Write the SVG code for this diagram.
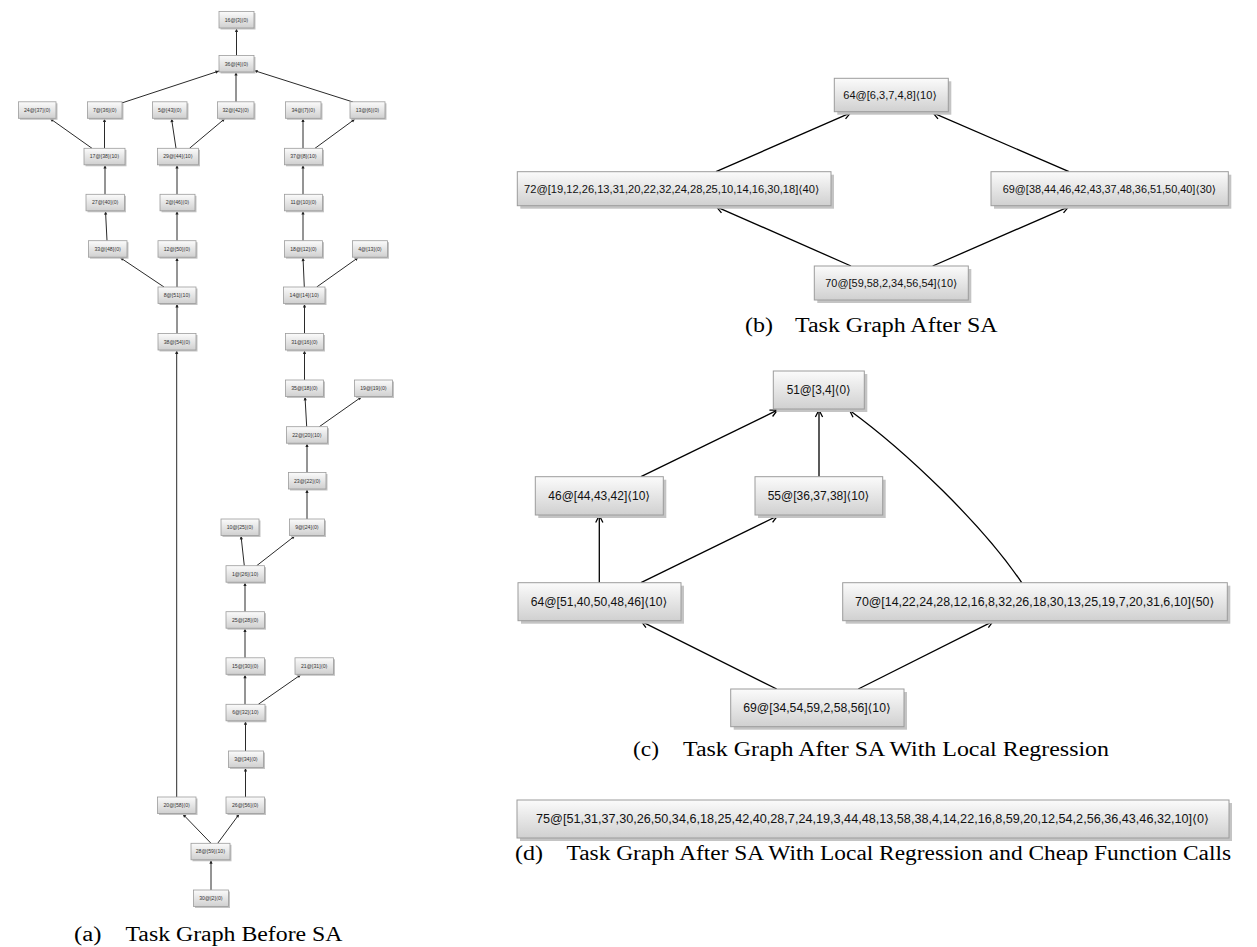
<svg xmlns="http://www.w3.org/2000/svg" width="1257" height="947" viewBox="0 0 1257 947">
  <defs>
    <linearGradient id="boxFill" x1="0" y1="0" x2="0" y2="1">
      <stop offset="0" stop-color="#fbfbfb"/>
      <stop offset="1" stop-color="#d0d0d0"/>
    </linearGradient>
    <!-- small filled head for the compact tree -->
    <marker id="tipS" markerUnits="userSpaceOnUse" viewBox="-4 -3 5 6" markerWidth="5" markerHeight="6" refX="0" refY="0" orient="auto">
      <path d="M-3.6,-1.6 L0,0 L-3.6,1.6 Z" fill="#222"/>
    </marker>
    <!-- open V head for the large graphs -->
    <marker id="tipL" markerUnits="userSpaceOnUse" viewBox="-9 -5 10 10" markerWidth="10" markerHeight="10" refX="0" refY="0" orient="auto">
      <path d="M-7,-3.6 L0,0 L-7,3.6" fill="none" stroke="#000" stroke-width="1.3"/>
    </marker>
    <style>
      .shadow { fill: #c4c4c4; }
      .box { fill: url(#boxFill); stroke: #9c9c9c; stroke-width: 1; }
      .sm .box { stroke-width: 0.8; }
      .lbl { font-family: "Liberation Sans", "DejaVu Sans", sans-serif; fill: #111; }
      .sm .lbl { font-size: 5.2px; fill: #333; text-anchor: middle; }
      .md .lbl { font-size: 11px; }
      .lg .lbl { font-size: 12px; }
      .cap { font-family: "Liberation Serif", "DejaVu Serif", serif; font-size: 20px; fill: #000; }
      .edgeS { fill: none; stroke: #2a2a2a; stroke-width: 1; marker-end: url(#tipS); }
      .edgeL { fill: none; stroke: #000; stroke-width: 1.3; marker-end: url(#tipL); }
    </style>
  </defs>

  <!-- (a) compact task tree: connectors -->
  <g id="edges-a">
    <path class="edgeS" d="M236.5,55.5 L236.5,28.5"/>
    <path class="edgeS" d="M121.7,103 L219,71"/>
    <path class="edgeS" d="M236,101.8 L236,72"/>
    <path class="edgeS" d="M353,102 L254,70.5"/>
    <path class="edgeS" d="M92,148.3 L50,118.5"/>
    <path class="edgeS" d="M104.5,148.3 L104.5,118.5"/>
    <path class="edgeS" d="M176,148.3 L171.5,118.5"/>
    <path class="edgeS" d="M189.5,148.3 L225,118.5"/>
    <path class="edgeS" d="M303,148.3 L303,118.5"/>
    <path class="edgeS" d="M315,148.3 L355,119"/>
    <path class="edgeS" d="M105,194.3 L105,165"/>
    <path class="edgeS" d="M177,194.3 L177,165"/>
    <path class="edgeS" d="M303,194.3 L303,165"/>
    <path class="edgeS" d="M107,240.7 L105.5,211"/>
    <path class="edgeS" d="M177,240.7 L177,211"/>
    <path class="edgeS" d="M303,240.7 L303,211"/>
    <path class="edgeS" d="M164,287 L120,257.5"/>
    <path class="edgeS" d="M177,287 L177,257.5"/>
    <path class="edgeS" d="M304.3,287 L303,257.5"/>
    <path class="edgeS" d="M316.7,287 L358.3,257.5"/>
    <path class="edgeS" d="M177,333.5 L177,303.8"/>
    <path class="edgeS" d="M304.5,333.5 L304.5,303.8"/>
    <path class="edgeS" d="M304.5,380 L304.5,350.3"/>
    <path class="edgeS" d="M306.7,426.7 L305,396.8"/>
    <path class="edgeS" d="M319.3,426.7 L361.7,396.8"/>
    <path class="edgeS" d="M307,472.5 L307,443.5"/>
    <path class="edgeS" d="M307,519 L307,489.3"/>
    <path class="edgeS" d="M244.3,565.7 L241,535.8"/>
    <path class="edgeS" d="M256.7,565.7 L295,535.8"/>
    <path class="edgeS" d="M245,611.7 L245,582.5"/>
    <path class="edgeS" d="M245,657.8 L245,628.5"/>
    <path class="edgeS" d="M245,704.3 L245,674.6"/>
    <path class="edgeS" d="M258.3,704.3 L301,674.6"/>
    <path class="edgeS" d="M245.5,751 L245.5,721.1"/>
    <path class="edgeS" d="M245.5,797 L245.5,767.8"/>
    <path class="edgeS" d="M176.7,797 L176.7,350.3"/>
    <path class="edgeS" d="M211,843.3 L182.7,814"/>
    <path class="edgeS" d="M217.7,843.3 L239.3,814"/>
    <path class="edgeS" d="M211,890 L211,860.1"/>
  </g>

  <!-- (a) compact task tree: nodes -->
  <g class="sm">
    <g id="a-n16"><rect class="shadow" x="220.5" y="13" width="35" height="16.5"/><rect class="box" x="219" y="11.5" width="35" height="16.5"/><text class="lbl" x="236.5" y="21.6">16@[3]⟨0⟩</text></g>
    <g id="a-n36"><rect class="shadow" x="220.5" y="57" width="35" height="16.5"/><rect class="box" x="219" y="55.5" width="35" height="16.5"/><text class="lbl" x="236.5" y="65.6">36@[4]⟨0⟩</text></g>
    <g id="a-n24"><rect class="shadow" x="20" y="103.3" width="37.5" height="16.5"/><rect class="box" x="18.5" y="101.8" width="37.5" height="16.5"/><text class="lbl" x="37.3" y="111.9">24@[37]⟨0⟩</text></g>
    <g id="a-n7"><rect class="shadow" x="89" y="103.3" width="34.5" height="16.5"/><rect class="box" x="87.5" y="101.8" width="34.5" height="16.5"/><text class="lbl" x="104.8" y="111.9">7@[36]⟨0⟩</text></g>
    <g id="a-n5"><rect class="shadow" x="154" y="103.3" width="34.5" height="16.5"/><rect class="box" x="152.5" y="101.8" width="34.5" height="16.5"/><text class="lbl" x="169.8" y="111.9">5@[43]⟨0⟩</text></g>
    <g id="a-n32"><rect class="shadow" x="219" y="103.3" width="36.5" height="16.5"/><rect class="box" x="217.5" y="101.8" width="36.5" height="16.5"/><text class="lbl" x="235.8" y="111.9">32@[42]⟨0⟩</text></g>
    <g id="a-n34"><rect class="shadow" x="287" y="103.3" width="35.5" height="16.5"/><rect class="box" x="285.5" y="101.8" width="35.5" height="16.5"/><text class="lbl" x="303.3" y="111.9">34@[7]⟨0⟩</text></g>
    <g id="a-n13"><rect class="shadow" x="351.5" y="103.3" width="35" height="16.5"/><rect class="box" x="350" y="101.8" width="35" height="16.5"/><text class="lbl" x="367.5" y="111.9">13@[6]⟨0⟩</text></g>
    <g id="a-n17"><rect class="shadow" x="85.5" y="149.8" width="41" height="16.5"/><rect class="box" x="84" y="148.3" width="41" height="16.5"/><text class="lbl" x="104.5" y="158.4">17@[38]⟨10⟩</text></g>
    <g id="a-n29"><rect class="shadow" x="159" y="149.8" width="41" height="16.5"/><rect class="box" x="157.5" y="148.3" width="41" height="16.5"/><text class="lbl" x="178" y="158.4">29@[44]⟨10⟩</text></g>
    <g id="a-n37"><rect class="shadow" x="286" y="149.8" width="38" height="16.5"/><rect class="box" x="284.5" y="148.3" width="38" height="16.5"/><text class="lbl" x="303.5" y="158.4">37@[8]⟨10⟩</text></g>
    <g id="a-n27"><rect class="shadow" x="87.5" y="195.8" width="38.5" height="16.5"/><rect class="box" x="86" y="194.3" width="38.5" height="16.5"/><text class="lbl" x="105.3" y="204.4">27@[40]⟨0⟩</text></g>
    <g id="a-n2"><rect class="shadow" x="161.5" y="195.8" width="35" height="16.5"/><rect class="box" x="160" y="194.3" width="35" height="16.5"/><text class="lbl" x="177.5" y="204.4">2@[46]⟨0⟩</text></g>
    <g id="a-n11"><rect class="shadow" x="286" y="195.8" width="38" height="16.5"/><rect class="box" x="284.5" y="194.3" width="38" height="16.5"/><text class="lbl" x="303.5" y="204.4">11@[10]⟨0⟩</text></g>
    <g id="a-n33"><rect class="shadow" x="90" y="242.2" width="38.5" height="16.5"/><rect class="box" x="88.5" y="240.7" width="38.5" height="16.5"/><text class="lbl" x="107.8" y="250.8">33@[48]⟨0⟩</text></g>
    <g id="a-n12"><rect class="shadow" x="159.5" y="242.2" width="38" height="16.5"/><rect class="box" x="158" y="240.7" width="38" height="16.5"/><text class="lbl" x="177" y="250.8">12@[50]⟨0⟩</text></g>
    <g id="a-n18"><rect class="shadow" x="286" y="242.2" width="38" height="16.5"/><rect class="box" x="284.5" y="240.7" width="38" height="16.5"/><text class="lbl" x="303.5" y="250.8">18@[12]⟨0⟩</text></g>
    <g id="a-n4"><rect class="shadow" x="354" y="242.2" width="35" height="16.5"/><rect class="box" x="352.5" y="240.7" width="35" height="16.5"/><text class="lbl" x="370" y="250.8">4@[13]⟨0⟩</text></g>
    <g id="a-n8"><rect class="shadow" x="159.5" y="288.5" width="38" height="16.5"/><rect class="box" x="158" y="287" width="38" height="16.5"/><text class="lbl" x="177" y="297.1">8@[51]⟨10⟩</text></g>
    <g id="a-n14"><rect class="shadow" x="285" y="288.5" width="41.5" height="16.5"/><rect class="box" x="283.5" y="287" width="41.5" height="16.5"/><text class="lbl" x="304.3" y="297.1">14@[14]⟨10⟩</text></g>
    <g id="a-n38"><rect class="shadow" x="159.5" y="335" width="38" height="16.5"/><rect class="box" x="158" y="333.5" width="38" height="16.5"/><text class="lbl" x="177" y="343.6">38@[54]⟨0⟩</text></g>
    <g id="a-n31"><rect class="shadow" x="287" y="335" width="38" height="16.5"/><rect class="box" x="285.5" y="333.5" width="38" height="16.5"/><text class="lbl" x="304.5" y="343.6">31@[16]⟨0⟩</text></g>
    <g id="a-n35"><rect class="shadow" x="287" y="381.5" width="38" height="16.5"/><rect class="box" x="285.5" y="380" width="38" height="16.5"/><text class="lbl" x="304.5" y="390.1">35@[18]⟨0⟩</text></g>
    <g id="a-n19"><rect class="shadow" x="356" y="381.5" width="38" height="16.5"/><rect class="box" x="354.5" y="380" width="38" height="16.5"/><text class="lbl" x="373.5" y="390.1">19@[19]⟨0⟩</text></g>
    <g id="a-n22"><rect class="shadow" x="288" y="428.2" width="41" height="16.5"/><rect class="box" x="286.5" y="426.7" width="41" height="16.5"/><text class="lbl" x="307" y="436.8">22@[20]⟨10⟩</text></g>
    <g id="a-n23"><rect class="shadow" x="290" y="474" width="37.5" height="16.5"/><rect class="box" x="288.5" y="472.5" width="37.5" height="16.5"/><text class="lbl" x="307.3" y="482.6">23@[22]⟨0⟩</text></g>
    <g id="a-n10"><rect class="shadow" x="222.5" y="520.5" width="38" height="16.5"/><rect class="box" x="221" y="519" width="38" height="16.5"/><text class="lbl" x="240" y="529.1">10@[25]⟨0⟩</text></g>
    <g id="a-n9"><rect class="shadow" x="291" y="520.5" width="35" height="16.5"/><rect class="box" x="289.5" y="519" width="35" height="16.5"/><text class="lbl" x="307" y="529.1">9@[24]⟨0⟩</text></g>
    <g id="a-n1"><rect class="shadow" x="227.5" y="567.2" width="38.5" height="16.5"/><rect class="box" x="226" y="565.7" width="38.5" height="16.5"/><text class="lbl" x="245.3" y="575.8">1@[26]⟨10⟩</text></g>
    <g id="a-n25"><rect class="shadow" x="227.5" y="613.2" width="38.5" height="16.5"/><rect class="box" x="226" y="611.7" width="38.5" height="16.5"/><text class="lbl" x="245.3" y="621.8">25@[28]⟨0⟩</text></g>
    <g id="a-n15"><rect class="shadow" x="227.5" y="659.3" width="38.5" height="16.5"/><rect class="box" x="226" y="657.8" width="38.5" height="16.5"/><text class="lbl" x="245.3" y="667.9">15@[30]⟨0⟩</text></g>
    <g id="a-n21"><rect class="shadow" x="296.5" y="659.3" width="38.5" height="16.5"/><rect class="box" x="295" y="657.8" width="38.5" height="16.5"/><text class="lbl" x="314.3" y="667.9">21@[31]⟨0⟩</text></g>
    <g id="a-n6"><rect class="shadow" x="227.5" y="705.8" width="39" height="16.5"/><rect class="box" x="226" y="704.3" width="39" height="16.5"/><text class="lbl" x="245.5" y="714.4">6@[32]⟨10⟩</text></g>
    <g id="a-n3"><rect class="shadow" x="230" y="752.5" width="35" height="16.5"/><rect class="box" x="228.5" y="751" width="35" height="16.5"/><text class="lbl" x="246" y="761.1">3@[34]⟨0⟩</text></g>
    <g id="a-n20"><rect class="shadow" x="159" y="798.5" width="38.5" height="16.5"/><rect class="box" x="157.5" y="797" width="38.5" height="16.5"/><text class="lbl" x="176.8" y="807.1">20@[58]⟨0⟩</text></g>
    <g id="a-n26"><rect class="shadow" x="227.5" y="798.5" width="38.5" height="16.5"/><rect class="box" x="226" y="797" width="38.5" height="16.5"/><text class="lbl" x="245.3" y="807.1">26@[56]⟨0⟩</text></g>
    <g id="a-n28"><rect class="shadow" x="192.5" y="844.8" width="39" height="16.5"/><rect class="box" x="191" y="843.3" width="39" height="16.5"/><text class="lbl" x="210.5" y="853.4">28@[59]⟨10⟩</text></g>
    <g id="a-n30"><rect class="shadow" x="195" y="891.5" width="35" height="16.5"/><rect class="box" x="193.5" y="890" width="35" height="16.5"/><text class="lbl" x="211" y="900.1">30@[2]⟨0⟩</text></g>
  </g>

  <!-- (b) graph after SA: connectors -->
  <g id="edges-b">
    <path class="edgeL" d="M716,171.7 L850.5,112.8"/>
    <path class="edgeL" d="M1069,171.7 L933,112.8"/>
    <path class="edgeL" d="M851,266 L716.5,206.8"/>
    <path class="edgeL" d="M932.7,266 L1068.5,206.8"/>
  </g>
  <!-- (b) nodes -->
  <g class="md">
    <g id="b-n64"><rect class="shadow" x="837.3" y="81.3" width="114" height="33.4"/><rect class="box" x="834.3" y="78.3" width="114" height="33.4"/><text class="lbl" x="843.3" y="98.8" textLength="93.4" lengthAdjust="spacingAndGlyphs">64@[6,3,7,4,8]⟨10⟩</text></g>
    <g id="b-n72"><rect class="shadow" x="520.3" y="174.7" width="313.7" height="34"/><rect class="box" x="517.3" y="171.7" width="313.7" height="34"/><text class="lbl" x="524" y="192.7" textLength="295.3" lengthAdjust="spacingAndGlyphs">72@[19,12,26,13,31,20,22,32,24,28,25,10,14,16,30,18]⟨40⟩</text></g>
    <g id="b-n69"><rect class="shadow" x="994" y="174.7" width="237.3" height="34"/><rect class="box" x="991" y="171.7" width="237.3" height="34"/><text class="lbl" x="1002.7" y="192.7" textLength="213.3" lengthAdjust="spacingAndGlyphs">69@[38,44,46,42,43,37,48,36,51,50,40]⟨30⟩</text></g>
    <g id="b-n70"><rect class="shadow" x="817.3" y="269" width="154" height="34"/><rect class="box" x="814.3" y="266" width="154" height="34"/><text class="lbl" x="825.3" y="287" textLength="132" lengthAdjust="spacingAndGlyphs">70@[59,58,2,34,56,54]⟨10⟩</text></g>
  </g>

  <!-- (c) graph after SA with local regression: connectors -->
  <g id="edges-c">
    <path class="edgeL" d="M641,476.7 L777.3,410.2"/>
    <path class="edgeL" d="M819,476.7 L819,410"/>
    <path class="edgeL" d="M1021.7,582.7 C982.5,524.6 906,451.3 849.5,410.2"/>
    <path class="edgeL" d="M599.3,582.7 L599.3,515.5"/>
    <path class="edgeL" d="M641,582.7 L777.3,516"/>
    <path class="edgeL" d="M776.7,689 L641.3,621.3"/>
    <path class="edgeL" d="M858.3,689 L993,621.3"/>
  </g>
  <!-- (c) nodes -->
  <g class="lg">
    <g id="c-n51"><rect class="shadow" x="776.3" y="374" width="91" height="38"/><rect class="box" x="773.3" y="371" width="91" height="38"/><text class="lbl" x="786.7" y="394.3" textLength="64" lengthAdjust="spacingAndGlyphs">51@[3,4]⟨0⟩</text></g>
    <g id="c-n46"><rect class="shadow" x="538.3" y="479.7" width="128" height="38.3"/><rect class="box" x="535.3" y="476.7" width="128" height="38.3"/><text class="lbl" x="548.3" y="500.2" textLength="101.7" lengthAdjust="spacingAndGlyphs">46@[44,43,42]⟨10⟩</text></g>
    <g id="c-n55"><rect class="shadow" x="758" y="479.7" width="127.7" height="38.3"/><rect class="box" x="755" y="476.7" width="127.7" height="38.3"/><text class="lbl" x="767.7" y="500.2" textLength="101.6" lengthAdjust="spacingAndGlyphs">55@[36,37,38]⟨10⟩</text></g>
    <g id="c-n64"><rect class="shadow" x="521" y="585.7" width="163" height="38"/><rect class="box" x="518" y="582.7" width="163" height="38"/><text class="lbl" x="530.7" y="606" textLength="136.6" lengthAdjust="spacingAndGlyphs">64@[51,40,50,48,46]⟨10⟩</text></g>
    <g id="c-n70"><rect class="shadow" x="845.7" y="585.7" width="384.6" height="38"/><rect class="box" x="842.7" y="582.7" width="384.6" height="38"/><text class="lbl" x="855" y="606" textLength="359.3" lengthAdjust="spacingAndGlyphs">70@[14,22,24,28,12,16,8,32,26,18,30,13,25,19,7,20,31,6,10]⟨50⟩</text></g>
    <g id="c-n69"><rect class="shadow" x="733.7" y="692" width="173.3" height="37.7"/><rect class="box" x="730.7" y="689" width="173.3" height="37.7"/><text class="lbl" x="743.3" y="712.2" textLength="147.4" lengthAdjust="spacingAndGlyphs">69@[34,54,59,2,58,56]⟨10⟩</text></g>
  </g>

  <!-- (d) single merged task -->
  <g class="lg">
    <g id="d-n75"><rect class="shadow" x="520" y="803" width="712" height="38"/><rect class="box" x="517" y="800" width="712" height="38"/><text class="lbl" x="536" y="823.3" textLength="673" lengthAdjust="spacingAndGlyphs">75@[51,31,37,30,26,50,34,6,18,25,42,40,28,7,24,19,3,44,48,13,58,38,4,14,22,16,8,59,20,12,54,2,56,36,43,46,32,10]⟨0⟩</text></g>
  </g>

  <!-- sub-figure captions -->
  <g id="captions">
    <text class="cap" x="74" y="941" textLength="27.5" lengthAdjust="spacingAndGlyphs">(a)</text>
    <text class="cap" x="125.5" y="941" textLength="217" lengthAdjust="spacingAndGlyphs">Task Graph Before SA</text>
    <text class="cap" x="745" y="332" textLength="28" lengthAdjust="spacingAndGlyphs">(b)</text>
    <text class="cap" x="795" y="332" textLength="202.5" lengthAdjust="spacingAndGlyphs">Task Graph After SA</text>
    <text class="cap" x="633" y="756" textLength="26" lengthAdjust="spacingAndGlyphs">(c)</text>
    <text class="cap" x="683" y="756" textLength="426" lengthAdjust="spacingAndGlyphs">Task Graph After SA With Local Regression</text>
    <text class="cap" x="515" y="860" textLength="28" lengthAdjust="spacingAndGlyphs">(d)</text>
    <text class="cap" x="566.5" y="860" textLength="664.6" lengthAdjust="spacingAndGlyphs">Task Graph After SA With Local Regression and Cheap Function Calls</text>
  </g>
</svg>
